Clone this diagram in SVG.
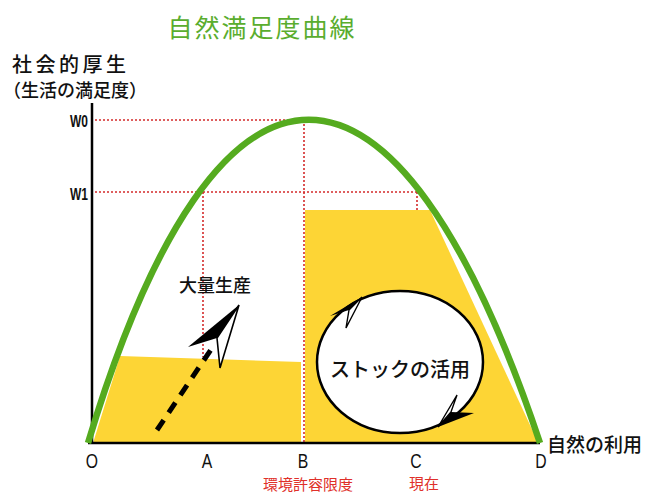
<svg xmlns="http://www.w3.org/2000/svg" width="649" height="494" viewBox="0 0 649 494">
<style>
.jp{font-family:"Noto Sans CJK JP","Noto Sans CJK SC",sans-serif;}
.lat{font-family:"Liberation Sans",sans-serif;}
.dot{stroke:#d42a2a;stroke-width:1.6;stroke-dasharray:2 2;fill:none;}
.ax{stroke:#000;stroke-width:2.5;fill:none;}
.red{fill:#e0302a;}
</style>
<rect width="649" height="494" fill="#fff"/>
<g id="yellow">
<polygon points="93,443 120,356 301,362 301,443" fill="#fdd535"/>
<polygon points="305,443 305,210 430,210 537,440 537,443" fill="#fdd535"/>
</g>
<g id="guides">
<line class="dot" x1="95" y1="120" x2="305" y2="120"/>
<line class="dot" x1="95" y1="192" x2="417" y2="192"/>
<line class="dot" x1="304" y1="120" x2="304" y2="443"/>
<line class="dot" x1="203" y1="192" x2="203" y2="357"/>
<line class="dot" x1="417" y1="192" x2="417" y2="210"/>
</g>
<g id="axes">
<line class="ax" x1="92" y1="103" x2="92" y2="443"/>
<line class="ax" x1="88" y1="443" x2="540" y2="443"/>
</g>
<g id="curve">
<path d="M88,443 C218,12 396,12 540,443" fill="none" stroke="#55ab1f" stroke-width="6.5"/>
</g>
<g id="stock">
<ellipse cx="400" cy="362" rx="83" ry="71" fill="#fff" stroke="#000" stroke-width="2.5"/>
<polygon points="330,316 362,297 349,310" fill="#000"/>
<polygon points="362,297 349,310 346,328" fill="#fff" stroke="#000" stroke-width="1.4"/>
<polygon points="474,413 438,427 451,412" fill="#000"/>
<polygon points="438,427 451,412 457,395" fill="#fff" stroke="#000" stroke-width="1.4"/>
<text class="jp" x="400" y="377" font-size="20" font-weight="500" text-anchor="middle" fill="#111">ストックの活用</text>
</g>
<g id="mass">
<line x1="157" y1="430" x2="212" y2="348" stroke="#000" stroke-width="5" stroke-dasharray="12 9"/>
<polygon points="239,305 188,347 217,338" fill="#000"/>
<polygon points="239,305 217,338 220,368" fill="#fff" stroke="#000" stroke-width="1.6"/>
<text class="jp" x="215" y="292" font-size="18" font-weight="500" text-anchor="middle" fill="#111">大量生産</text>
</g>
<g id="labels">
<text class="jp" x="262" y="37" font-size="25" letter-spacing="2" text-anchor="middle" fill="#5aad2e">自然満足度曲線</text>
<text class="jp" x="12" y="72" font-size="20" font-weight="500" letter-spacing="3.5" fill="#111">社会的厚生</text>
<text class="jp" x="3" y="97" font-size="18" font-weight="500" fill="#111">（生活の満足度）</text>
<text class="lat" x="70" y="127" font-size="17" font-weight="bold" textLength="18" lengthAdjust="spacingAndGlyphs" fill="#111">W0</text>
<text class="lat" x="70" y="200" font-size="17" font-weight="bold" textLength="18" lengthAdjust="spacingAndGlyphs" fill="#111">W1</text>
<text class="lat" x="92" y="468" font-size="21" text-anchor="middle" transform="translate(92 0) scale(0.75 1) translate(-92 0)" fill="#111">O</text>
<text class="lat" x="207" y="468" font-size="21" text-anchor="middle" transform="translate(207 0) scale(0.75 1) translate(-207 0)" fill="#111">A</text>
<text class="lat" x="303" y="468" font-size="21" text-anchor="middle" transform="translate(303 0) scale(0.75 1) translate(-303 0)" fill="#111">B</text>
<text class="lat" x="416" y="468" font-size="21" text-anchor="middle" transform="translate(416 0) scale(0.75 1) translate(-416 0)" fill="#111">C</text>
<text class="lat" x="541" y="468" font-size="21" text-anchor="middle" transform="translate(541 0) scale(0.75 1) translate(-541 0)" fill="#111">D</text>
<text class="jp red" x="308" y="490" font-size="15" text-anchor="middle">環境許容限度</text>
<text class="jp red" x="424" y="489" font-size="15" text-anchor="middle">現在</text>
<text class="jp" x="547" y="452" font-size="19" font-weight="500" fill="#111">自然の利用</text>
</g>
</svg>
